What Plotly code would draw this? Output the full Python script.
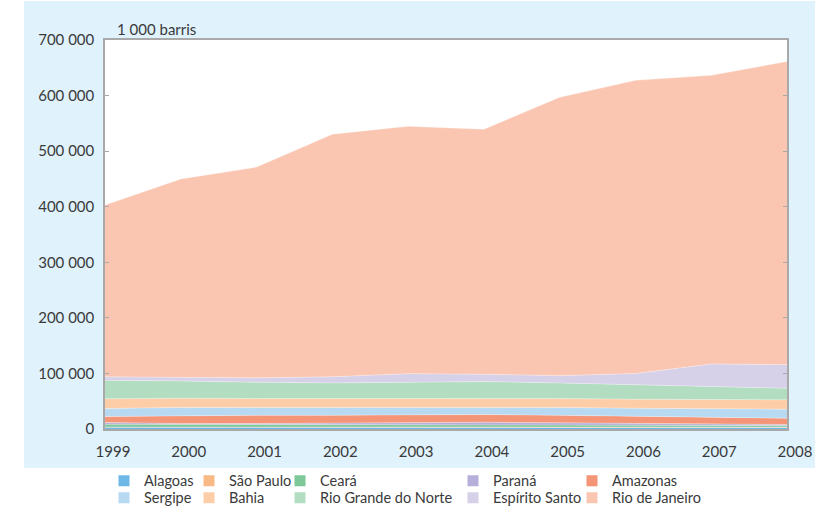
import plotly.graph_objects as go

years = [1999, 2000, 2001, 2002, 2003, 2004, 2005, 2006, 2007, 2008]

# 1 000 barris, stacked from bottom to top
alagoas = [3200, 3000, 3000, 3100, 3200, 3100, 3000, 2900, 2800, 2700]
sao_paulo = [500, 500, 400, 400, 500, 500, 500, 600, 600, 700]
ceara = [4800, 4500, 4300, 4200, 3900, 3700, 3500, 3200, 2900, 2700]
parana = [3200, 1900, 2200, 2700, 4600, 4900, 4100, 3700, 3600, 2000]
amazonas = [10800, 14400, 14900, 14400, 13800, 13800, 13600, 12600, 11300, 11300]
sergipe = [14400, 14400, 13800, 13800, 13100, 13800, 13800, 14400, 15100, 16200]
bahia = [17400, 16700, 16200, 16200, 16200, 16200, 16200, 16200, 16200, 16900]
rio_grande_do_norte = [33400, 31200, 29300, 28200, 28700, 29300, 28200, 25800, 23300, 20800]
espirito_santo = [6100, 6500, 7900, 10800, 15600, 13100, 13100, 20300, 41300, 42500]
rio_de_janeiro = [309300, 356700, 379300, 436700, 445200, 441000, 500800, 527700, 519300, 545700]

series_names = ["Alagoas", "São Paulo", "Ceará", "Paraná", "Amazonas",
                "Sergipe", "Bahia", "Rio Grande do Norte", "Espírito Santo", "Rio de Janeiro"]
series_values = [alagoas, sao_paulo, ceara, parana, amazonas,
                 sergipe, bahia, rio_grande_do_norte, espirito_santo, rio_de_janeiro]
colors = ["#6DB8E6", "#F9B985", "#7DC798", "#B6AFDA", "#F49577",
          "#B7D9F2", "#FDCDA8", "#B3DDC0", "#D6D0E8", "#FAC6B2"]

y_tickvals = [0, 100000, 200000, 300000, 400000, 500000, 600000, 700000]
y_ticktext = ["0", "100 000", "200 000", "300 000", "400 000", "500 000", "600 000", "700 000"]
x_ticktext = [str(y) for y in years]

# layout designed in reference pixels; vertical pixels scaled to the page height
W, H_REF = 827, 508
H = 526
K = H / H_REF
ML, MR = 105, 40
T_REF, B_REF = 39, 429          # plot top / bottom in reference pixels
MT, MB = T_REF * K, (H_REF - B_REF) * K
PW = W - ML - MR


def px_x(x):
    return (x - ML) / PW


def px_y(y):
    return (B_REF - y) / (B_REF - T_REF)


FONT = "Lato"
TXT = "#3a3a3a"

fig = go.Figure()
for name, vals, col in zip(series_names, series_values, colors):
    fig.add_trace(go.Scatter(
        x=years, y=vals, name=name, stackgroup="one", mode="lines",
        line=dict(width=0.6, color="rgba(255,255,255,0.55)"),
        fillcolor=col, showlegend=False, hoverinfo="x+y+name"))

# legend: row 1 / row 2 columns
text_x = [144, 229, 320, 493, 612]
row_y = [481, 498]
legend_keys = []
for i, (name, col) in enumerate(zip(series_names, colors)):
    key = "legend" if i == 0 else f"legend{i + 1}"
    legend_keys.append(key)
    fig.add_trace(go.Scatter(
        x=[None], y=[None], mode="markers", name=name,
        marker=dict(symbol="square", size=11, color=col, line=dict(width=0)),
        legend=key, showlegend=True, hoverinfo="skip"))

layout_legends = {}
for i, key in enumerate(legend_keys):
    col_i = i % 5
    row_i = i // 5
    layout_legends[key] = dict(
        x=px_x(text_x[col_i] - 40), y=px_y(row_y[row_i]),
        xanchor="left", yanchor="middle",
        bgcolor="rgba(0,0,0,0)", borderwidth=0,
        font=dict(family=FONT, size=14.5, color=TXT))

fig.update_layout(
    width=W, height=H, autosize=False,
    margin=dict(l=ML, r=MR, t=MT, b=MB, pad=0),
    paper_bgcolor="white", plot_bgcolor="white",
    font=dict(family=FONT, size=15, color=TXT),
    shapes=[
        dict(type="rect", xref="paper", yref="paper",
             x0=px_x(24), x1=px_x(815), y0=px_y(468), y1=px_y(0),
             fillcolor="#E0F2FC", line=dict(width=0), layer="below"),
        dict(type="rect", xref="paper", yref="paper",
             x0=0, x1=1, y0=0, y1=1,
             fillcolor="white", line=dict(width=0), layer="below"),
    ],
    annotations=[
        dict(text="1 000 barris", xref="paper", yref="paper",
             x=px_x(115), y=px_y(28), xanchor="left", yanchor="middle",
             showarrow=False, font=dict(family=FONT, size=15, color=TXT)),
    ],
    xaxis=dict(range=[1999, 2008], tickvals=years, ticktext=x_ticktext,
               showgrid=False, zeroline=False, showline=True, mirror=True,
               linecolor="#A9A9A9", linewidth=1.5, ticks="",
               ticklabelstandoff=8, ticklabelshift=8,
               tickfont=dict(family=FONT, size=15, color=TXT)),
    yaxis=dict(range=[0, 700000], tickvals=y_tickvals, ticktext=y_ticktext,
               showgrid=False, zeroline=False, showline=True, mirror="ticks",
               linecolor="#A9A9A9", linewidth=1.5, ticks="inside", ticklen=4,
               tickcolor="#A9A9A9", ticklabelstandoff=6,
               tickfont=dict(family=FONT, size=15, color=TXT)),
    **layout_legends,
)

fig.write_html(
    "out.html",
    config={"displayModeBar": False},
    post_script=("var de=document.documentElement, b=document.body;"
                 "de.style.margin='0px'; de.style.padding='0px';"
                 "de.style.overflow='hidden';"
                 "b.style.margin='0px'; b.style.padding='0px';"
                 "b.style.overflow='hidden';"),
)
